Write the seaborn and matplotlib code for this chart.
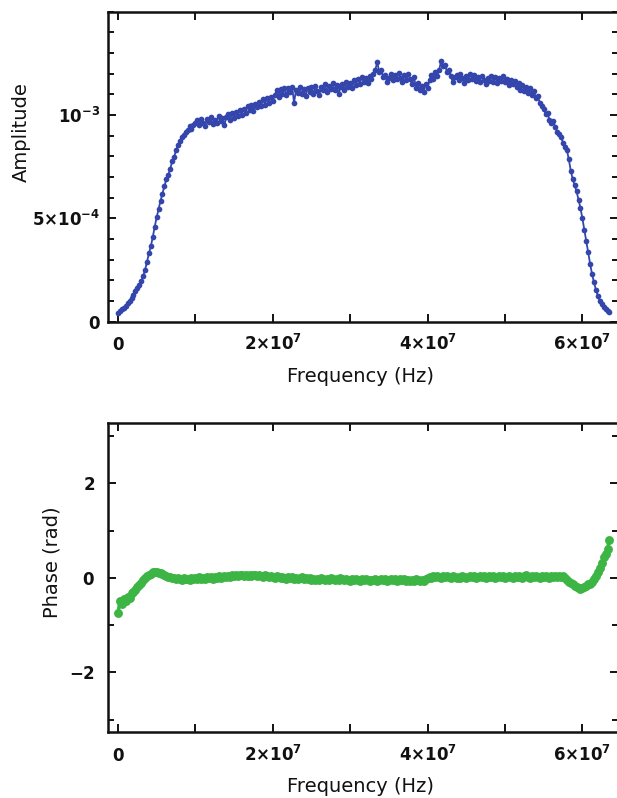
import numpy as np
import pandas as pd
import matplotlib
matplotlib.use("Agg")
import matplotlib.pyplot as plt
import seaborn as sns
from matplotlib.ticker import FixedLocator, MultipleLocator

# ---------------- data ----------------
freq_step_hz = 2.5e5  # spacing of the frequency samples

# amplitude in units of 1e-4
amplitude_e4 = [
    0.42, 0.50, 0.60, 0.68, 0.77, 0.88, 1.00, 1.15, 1.30, 1.48,
    1.62, 1.78, 1.95, 2.20, 2.50, 2.90, 3.30, 3.65, 4.10, 4.60,
    5.05, 5.45, 5.85, 6.20, 6.55, 6.90, 7.10, 7.40, 7.75, 7.95,
    8.30, 8.55, 8.75, 8.95, 9.05, 9.20, 9.25, 9.45, 9.30, 9.50,
    9.60, 9.75, 9.50, 9.80, 9.60, 9.45, 9.80, 9.65, 9.90, 9.55,
    9.75, 9.60, 9.95, 9.70, 9.85, 9.50, 9.90, 10.05, 9.75, 10.10,
    9.85, 10.15, 9.95, 10.25, 10.00, 10.30, 10.10, 10.45, 10.25, 10.50,
    10.20, 10.55, 10.40, 10.65, 10.45, 10.75, 10.50, 10.80, 10.60, 10.85,
    10.70, 10.95, 11.20, 10.85, 11.25, 11.00, 11.30, 10.95, 11.30, 11.10,
    11.35, 10.60, 11.20, 11.05, 11.35, 11.00, 11.25, 10.90, 11.30, 11.10,
    11.35, 11.00, 11.40, 11.15, 10.95, 11.35, 11.20, 11.50, 11.10, 11.40,
    11.25, 11.55, 11.20, 11.45, 11.00, 11.35, 11.50, 11.20, 11.60, 11.35,
    11.55, 11.30, 11.70, 11.45, 11.75, 11.50, 11.85, 11.60, 11.80, 11.55,
    11.90, 11.75, 12.00, 12.20, 12.55, 12.10, 12.20, 11.85, 11.95, 11.60,
    11.80, 12.00, 11.70, 11.95, 11.75, 12.05, 11.80, 11.60, 11.95, 11.70,
    12.00, 11.75, 11.50, 11.85, 11.30, 11.55, 11.20, 11.40, 11.10, 11.50,
    11.30, 11.70, 11.95, 11.75, 12.10, 11.90, 12.20, 12.60, 12.35, 12.40,
    12.10, 12.20, 11.90, 11.60, 11.85, 11.95, 11.70, 12.00, 11.80, 11.55,
    11.90, 11.70, 12.00, 11.75, 11.95, 11.65, 11.85, 11.60, 11.90, 11.70,
    11.50, 11.80, 11.65, 11.90, 11.60, 11.85, 11.55, 11.80, 11.65, 11.90,
    11.60, 11.75, 11.45, 11.70, 11.50, 11.65, 11.35, 11.55, 11.20, 11.45,
    11.15, 11.35, 11.05, 11.30, 10.95, 11.15, 10.80, 10.90, 10.60, 10.45,
    10.30, 10.05, 10.10, 9.75, 9.60, 9.70, 9.40, 9.20, 9.10, 8.95,
    8.65, 8.45, 8.30, 7.85, 7.30, 6.90, 6.60, 6.30, 5.90, 5.50,
    5.00, 4.45, 3.90, 3.35, 2.80, 2.30, 1.90, 1.55, 1.25, 1.00,
    0.85, 0.72, 0.62, 0.52, 0.45,
]

# phase in radians
phase_rad = [
    -0.75, -0.50, -0.55, -0.45, -0.48, -0.40, -0.42, -0.33, -0.30, -0.25,
    -0.20, -0.15, -0.10, -0.05, 0.00, 0.03, 0.06, 0.09, 0.12, 0.13,
    0.12, 0.10, 0.11, 0.08, 0.05, 0.03, 0.01, 0.02, -0.01, -0.01,
    -0.03, 0.00, -0.02, -0.04, -0.01, -0.03, -0.02, -0.04, 0.00, -0.03,
    -0.01, -0.03, 0.01, -0.02, 0.00, -0.02, 0.02, -0.01, 0.01, -0.02,
    0.02, 0.00, 0.03, 0.00, 0.02, 0.04, 0.01, 0.04, 0.02, 0.05,
    0.03, 0.06, 0.03, 0.05, 0.07, 0.04, 0.06, 0.03, 0.06, 0.04,
    0.07, 0.05, 0.03, 0.06, 0.04, 0.02, 0.05, 0.03, 0.01, 0.04,
    0.02, 0.00, 0.03, 0.01, -0.01, 0.02, 0.00, -0.02, 0.01, -0.01,
    0.01, -0.02, 0.00, -0.03, -0.01, 0.01, -0.02, 0.00, -0.03, -0.01,
    -0.04, -0.02, -0.05, -0.02, -0.04, -0.01, -0.03, -0.05, -0.02, -0.04,
    -0.01, -0.03, -0.05, -0.02, -0.04, -0.01, -0.03, -0.05, -0.02, -0.04,
    -0.06, -0.03, -0.05, -0.02, -0.04, -0.06, -0.03, -0.05, -0.02, -0.04,
    -0.07, -0.04, -0.05, -0.03, -0.06, -0.04, -0.02, -0.05, -0.03, -0.06,
    -0.04, -0.02, -0.05, -0.03, -0.06, -0.04, -0.02, -0.05, -0.03, -0.06,
    -0.04, -0.07, -0.04, -0.06, -0.03, -0.05, -0.07, -0.04, -0.06, -0.03,
    -0.01, 0.02, 0.00, 0.03, 0.01, 0.04, 0.02, 0.00, 0.03, 0.01,
    0.04, 0.02, 0.00, 0.03, 0.01, -0.01, 0.02, 0.00, 0.03, 0.01,
    -0.01, 0.02, 0.04, 0.01, 0.03, 0.00, 0.02, 0.04, 0.01, 0.03,
    0.00, 0.02, 0.04, 0.01, 0.03, 0.00, 0.02, 0.04, 0.01, 0.03,
    0.00, 0.02, 0.04, 0.02, 0.00, 0.03, 0.01, 0.04, 0.02, 0.00,
    0.03, 0.05, 0.02, 0.00, 0.03, 0.01, 0.04, 0.02, 0.00, 0.03,
    0.01, 0.04, 0.02, 0.00, 0.03, 0.01, 0.04, 0.02, 0.03, 0.01,
    0.04, 0.00, -0.04, -0.08, -0.11, -0.14, -0.17, -0.19, -0.21, -0.23,
    -0.22, -0.20, -0.17, -0.14, -0.12, -0.08, -0.03, 0.04, 0.12, 0.20,
    0.32, 0.44, 0.50, 0.62, 0.80,
]

x_tick_values = [0, 2e7, 4e7, 6e7]
x_tick_labels = [r"$0$", r"$2{\times}10^{7}$", r"$4{\times}10^{7}$", r"$6{\times}10^{7}$"]
x_minor_values = [1e7, 3e7, 5e7]
amp_tick_values = [0, 5e-4, 1e-3]
amp_tick_labels = [r"$0$", r"$5{\times}10^{-4}$", r"$10^{-3}$"]
phase_tick_values = [-2, 0, 2]
phase_tick_labels = [r"$-2$", r"$0$", r"$2$"]
phase_minor_values = [-3, -1, 1, 3]

amp_color = "#3446AC"
phase_color = "#3DB544"

# ---------------- style ----------------
sns.set_style("ticks")
plt.rcParams["font.family"] = ["DejaVu Sans"]
plt.rcParams["mathtext.fontset"] = "dejavusans"
plt.rcParams["mathtext.default"] = "bf"

n = len(amplitude_e4)
freq = np.arange(n) * freq_step_hz
df = pd.DataFrame({
    "freq": freq,
    "amp": np.asarray(amplitude_e4) * 1e-4,
    "phase": np.asarray(phase_rad[:n]),
})

fig = plt.figure(figsize=(6.17, 7.98), dpi=100)
ax1 = fig.add_axes([0.1750, 0.5969, 0.8266, 0.3885])
ax2 = fig.add_axes([0.1750, 0.0823, 0.8266, 0.3872])

sns.lineplot(data=df, x="freq", y="amp", ax=ax1, color=amp_color, marker="o",
             markersize=4.1, markeredgewidth=0, linewidth=1.3,
             estimator=None, errorbar=None, sort=False)
sns.lineplot(data=df, x="freq", y="phase", ax=ax2, color=phase_color, marker="o",
             markersize=6.4, markeredgewidth=0, linewidth=2.5,
             estimator=None, errorbar=None, sort=False)

for ax in (ax1, ax2):
    ax.set_xlim(-1.29e6, 6.46e7)
    ax.set_xticks(x_tick_values, x_tick_labels)
    ax.xaxis.set_minor_locator(FixedLocator(x_minor_values))
    for sp in ax.spines.values():
        sp.set_linewidth(1.8)
        sp.set_color("#111111")
        sp.set_visible(True)
    ax.tick_params(which="both", direction="in", top=True, right=True,
                   width=1.4, color="#111111", labelsize=12, labelcolor="#111111")
    ax.tick_params(which="major", length=6)
    ax.tick_params(axis="y", which="minor", length=4)
    ax.tick_params(axis="x", which="minor", length=6)
    ax.tick_params(axis="x", which="both", pad=20.6)
    ax.set_xlabel("Frequency (Hz)", fontsize=14, color="#111111")
    ax.xaxis.set_label_coords(0.495, -0.145)

ax1.set_ylim(0, 1.5e-3)
ax1.set_yticks(amp_tick_values, amp_tick_labels)
ax1.yaxis.set_minor_locator(MultipleLocator(1e-4))
ax1.tick_params(axis="y", which="both", pad=5.5)
ax1.set_ylabel("Amplitude", fontsize=14, color="#111111")
ax1.yaxis.set_label_coords(-0.151, 0.613)

ax2.set_ylim(-3.27, 3.27)
ax2.set_yticks(phase_tick_values, phase_tick_labels)
ax2.yaxis.set_minor_locator(FixedLocator(phase_minor_values))
ax2.tick_params(axis="y", which="both", pad=9.5)
ax2.set_ylabel("Phase (rad)", fontsize=14, color="#111111")
ax2.yaxis.set_label_coords(-0.092, 0.55)

for ax in (ax1, ax2):
    for lab in ax.get_xticklabels():
        lab.set_verticalalignment("baseline")

fig.savefig("out.png", dpi=100)
